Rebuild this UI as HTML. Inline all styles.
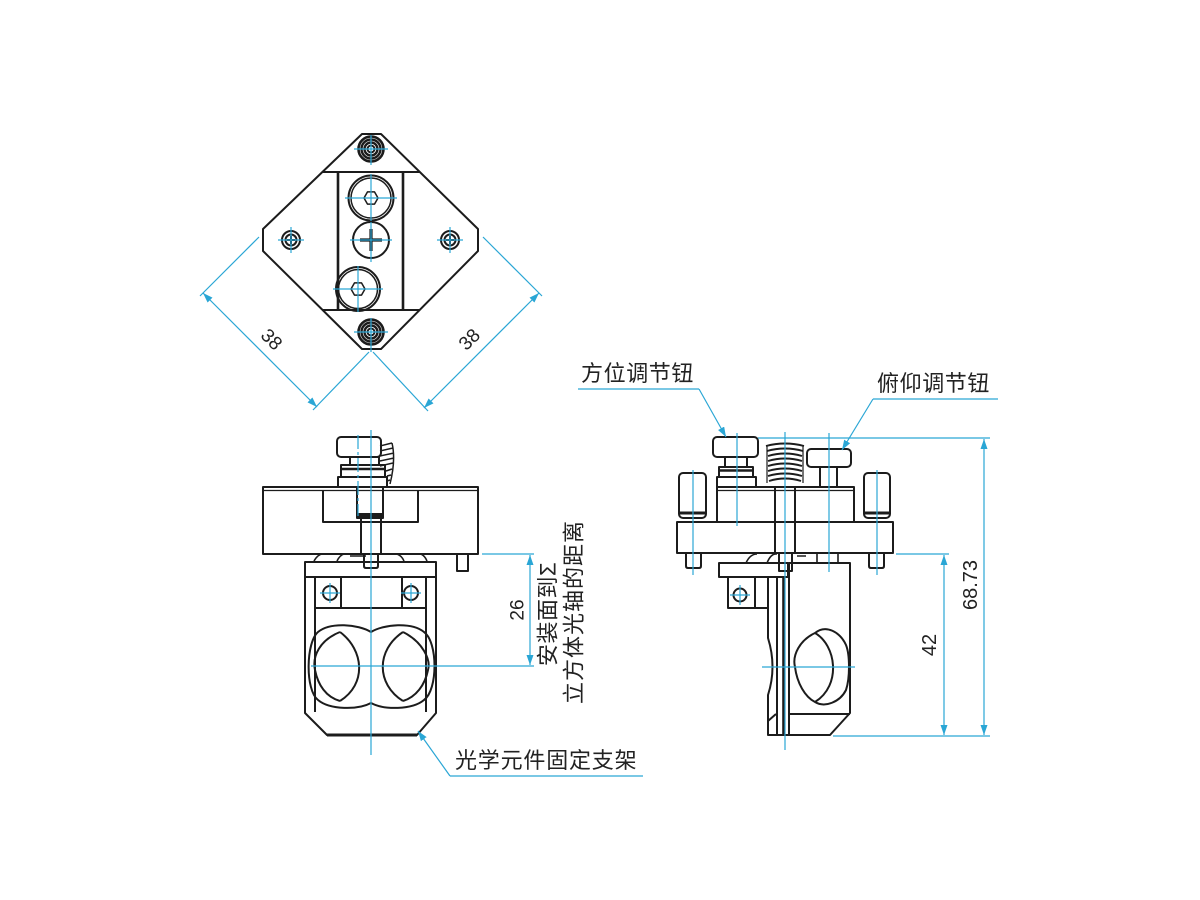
<!DOCTYPE html>
<html><head><meta charset="utf-8"><style>
html,body{margin:0;padding:0;background:#fff;}
svg{display:block;}
text{font-family:"Liberation Sans","Noto Sans CJK SC",sans-serif;fill:#222;}
</style></head><body>
<svg width="1200" height="900" viewBox="0 0 1200 900" xmlns="http://www.w3.org/2000/svg">
<defs>
<marker id="ar" viewBox="0 0 10 7" refX="10" refY="3.5" markerWidth="10" markerHeight="7" markerUnits="userSpaceOnUse" orient="auto-start-reverse"><path d="M0,0 L10,3.5 L0,7 Z" fill="#2aa6d5"/></marker>
</defs>

<!-- ================= BLACK DRAWING ================= -->
<g fill="none" stroke="#1c1c1c" stroke-width="2" stroke-linejoin="round">
 <!-- TOP VIEW -->
 <polygon points="362,134 381,134 478,229 478,251 381,349 362,349 263,251 263,229"/>
 <line x1="322" y1="172" x2="420" y2="172"/>
 <line x1="322" y1="310" x2="420" y2="310"/>
 <line x1="338" y1="172" x2="338" y2="310" stroke-width="2.6"/>
 <line x1="403" y1="172" x2="403" y2="310" stroke-width="2.6"/>
 <!-- top & bottom screws -->
 <circle cx="371" cy="149" r="12.5" stroke-width="2.6"/><circle cx="371" cy="149" r="9.5" stroke-width="2.4"/><circle cx="371" cy="149" r="6.5" stroke-width="2.4"/><circle cx="371" cy="149" r="3.5" stroke-width="2"/>
 <circle cx="371" cy="332" r="12.5" stroke-width="2.6"/><circle cx="371" cy="332" r="9.5" stroke-width="2.4"/><circle cx="371" cy="332" r="6.5" stroke-width="2.4"/><circle cx="371" cy="332" r="3.5" stroke-width="2"/>
 <!-- hex sockets -->
 <circle cx="371" cy="198" r="22.5"/><circle cx="371" cy="198" r="20" stroke-width="1.5"/>
 <polygon points="378,198 374.5,204.1 367.5,204.1 364,198 367.5,191.9 374.5,191.9" stroke-width="1.5"/>
 <circle cx="358" cy="289" r="22"/><circle cx="358" cy="289" r="19.5" stroke-width="1.5"/>
 <polygon points="365,289 361.5,295.1 354.5,295.1 351,289 354.5,282.9 361.5,282.9" stroke-width="1.5"/>
 <!-- phillips -->
 <circle cx="371" cy="240" r="18"/>
 <path d="M360,240 H382 M371,229 V251" stroke-width="3.2"/>
 <!-- side screws -->
 <circle cx="291" cy="240" r="9"/><circle cx="291" cy="240" r="5.5"/>
 <path d="M287,240 H295 M291,236 V244" stroke-width="2"/>
 <circle cx="450" cy="240" r="9"/><circle cx="450" cy="240" r="5.5"/>
 <path d="M446,240 H454 M450,236 V244" stroke-width="2"/>

 <!-- FRONT VIEW -->
 <rect x="337" y="437" width="44" height="20" rx="4"/>
 <rect x="350" y="457" width="29" height="8"/>
 <rect x="341" y="465" width="44" height="12"/>
 <line x1="341" y1="469" x2="385" y2="469" stroke-width="2.5"/>
 <rect x="338" y="477" width="49" height="10"/>
 <!-- spring bits -->
 <path d="M380,446 L392,443 M380,451 L393,448 M380,456 L394,453 M380,461 L394,458 M380,466 L393,463 M386,471 L392,469 M387,476 L391,475 M387,481 L390,480 M392,443 Q396,460 390,484" stroke-width="1.5"/>
 <rect x="263" y="487" width="215" height="67"/>
 <line x1="263" y1="490.5" x2="478" y2="490.5" stroke-width="1.2"/>
 <polyline points="323,490 323,522 418,522 418,490"/>
 <line x1="357" y1="487" x2="357" y2="516"/>
 <line x1="383" y1="487" x2="383" y2="516"/>
 <rect x="357" y="514" width="26" height="4" fill="#1c1c1c"/>
 <line x1="361" y1="518" x2="361" y2="554"/>
 <line x1="381" y1="518" x2="381" y2="554"/>
 <path d="M364,554 V566 Q364,568 366,568 H376 Q378,568 378,566 V554"/>
 <path d="M457,554 V571 H468 V554"/>
 <!-- bumps under plate -->
 <path d="M314,561 Q318,554 323,554 M337,561 Q340,555 344,554 M350,556 H366 M397,554 Q402,556 404,561 M421,554 Q425,556 427,561" stroke-width="1.6"/>
 <!-- lower block -->
 <path d="M305,562 H436 V713 L417,735 H327 L305,713 Z"/>
 <line x1="327" y1="735" x2="417" y2="735" stroke-width="3"/>
 <line x1="305" y1="577" x2="436" y2="577"/>
 <line x1="315" y1="577" x2="315" y2="712"/>
 <line x1="426" y1="577" x2="426" y2="712"/>
 <line x1="315" y1="608" x2="426" y2="608"/>
 <line x1="341" y1="577" x2="341" y2="608"/>
 <line x1="402" y1="577" x2="402" y2="608"/>
 <circle cx="330" cy="593" r="7"/>
 <circle cx="411" cy="593" r="7"/>
 <!-- lens blob -->
 <path d="M371,632 C358,624 330,622 318,632 C306,642 305,690 318,700 C330,710 358,710 371,703 C384,710 412,710 424,700 C438,690 438,642 424,632 C412,622 384,624 371,632 Z"/>
 <path d="M340,632 C320,640 312,656 315,670 C318,685 326,697 340,701"/>
 <path d="M340,632 C364,650 367,684 340,701"/>
 <path d="M403,632 C423,642 431,660 428,670 C425,685 416,697 403,701"/>
 <path d="M403,632 C376,650 376,684 403,701"/>

 <!-- SIDE VIEW -->
 <rect x="713" y="437" width="45" height="20" rx="4"/>
 <rect x="725" y="457" width="22" height="10"/>
 <rect x="719" y="467" width="34" height="10"/>
 <line x1="719" y1="470.5" x2="753" y2="470.5" stroke-width="2.5"/>
 <rect x="717" y="477" width="39" height="10"/>
 <!-- spring -->
 <path d="M766,446 Q785,441 804,446 M767,451 Q785,446 803,451 M768,456 Q785,451 802,456 M768,461 Q785,456 802,461 M768,466 Q785,461 802,466 M768,471 Q785,466 802,471 M768,476 Q785,471 802,476 M769,481 Q785,476 801,481" stroke-width="1.9"/>
 <path d="M767,446 V483 M803,446 V483" stroke-width="1.2"/>
 <rect x="807" y="449" width="44" height="18" rx="4"/>
 <rect x="820" y="467" width="17" height="20"/>
 <!-- posts -->
 <rect x="679" y="473" width="27" height="45" rx="4"/>
 <line x1="679" y1="513" x2="706" y2="513" stroke-width="3"/>
 <rect x="864" y="473" width="26" height="45" rx="4"/>
 <line x1="864" y1="513" x2="890" y2="513" stroke-width="3"/>
 <!-- plates -->
 <path d="M717,522 V487 H854 V522"/>
 <line x1="717" y1="490.5" x2="854" y2="490.5" stroke-width="1.2"/>
 <rect x="677" y="522" width="216" height="31"/>
 <line x1="775" y1="487" x2="775" y2="553"/>
 <line x1="795" y1="487" x2="795" y2="553"/>
 <path d="M779,553 V571 H792 V553"/>
 <path d="M686,553 V566 Q686,568 688,568 H699 Q701,568 701,566 V553"/>
 <path d="M869,553 V566 Q869,568 871,568 H882 Q884,568 884,566 V553"/>
 <path d="M746,563 Q750,554 757,554 M767,563 Q771,553 777,554 M797,556 H806 M817,553 V563 M838,553 V563" stroke-width="1.6"/>
 <!-- lower parts -->
 <rect x="719" y="563" width="69" height="14"/>
 <path d="M789,563 H850 V713 L830,735 H789 Z"/>
 <line x1="789" y1="714" x2="850" y2="714"/>
 <rect x="728" y="577" width="40" height="31"/>
 <line x1="755" y1="577" x2="755" y2="608"/>
 <circle cx="740" cy="595" r="6.5"/>
 <path d="M768,608 V638 Q777,667 768,695 V735 H789"/>
 <line x1="777" y1="577" x2="777" y2="735"/>
 <line x1="783.5" y1="577" x2="783.5" y2="735" stroke-width="2.6"/>
 <path d="M768,721 L776,714"/>
 <!-- side lens -->
 <path d="M815,633 C800,640 792,655 795,667 C797,683 805,697 815,702 C825,708 840,702 846,690 C850,678 850,655 846,645 C840,632 826,624 815,633 Z"/>
 <path d="M815,633 C836,645 842,685 815,702"/>
</g>

<!-- ================= CYAN ================= -->
<g fill="none" stroke="#2aa6d5" stroke-width="1.2">
 <!-- top view crosshairs -->
 <line x1="354" y1="149" x2="388" y2="149"/><line x1="371" y1="135" x2="371" y2="165"/>
 <line x1="345" y1="198" x2="397" y2="198"/><line x1="371" y1="174" x2="371" y2="221"/>
 <line x1="350" y1="240" x2="392" y2="240"/><line x1="371" y1="222" x2="371" y2="262"/>
 <line x1="333" y1="289" x2="383" y2="289"/><line x1="358" y1="266" x2="358" y2="312"/>
 <line x1="354" y1="332" x2="388" y2="332"/><line x1="371" y1="318" x2="371" y2="352"/>
 <line x1="278" y1="240" x2="304" y2="240"/><line x1="291" y1="227" x2="291" y2="253"/>
 <line x1="437" y1="240" x2="463" y2="240"/><line x1="450" y1="227" x2="450" y2="253"/>
 <!-- top view dims -->
 <line x1="259" y1="237" x2="200" y2="296"/>
 <line x1="369" y1="352" x2="313" y2="410"/>
 <line x1="373" y1="352" x2="428" y2="411"/>
 <line x1="483" y1="237" x2="542" y2="296"/>
 <line x1="203" y1="293" x2="317" y2="407" marker-start="url(#ar)" marker-end="url(#ar)"/>
 <line x1="424" y1="408" x2="539" y2="293" marker-start="url(#ar)" marker-end="url(#ar)"/>

 <!-- front view -->
 <line x1="371" y1="430" x2="371" y2="755"/>
 <line x1="358" y1="435" x2="358" y2="516" stroke-dasharray="14,3,3,3"/>
 <line x1="311" y1="666" x2="534" y2="666"/>
 <line x1="482" y1="554" x2="534" y2="554"/>
 <line x1="530" y1="555" x2="530" y2="665" marker-start="url(#ar)" marker-end="url(#ar)"/>
 <line x1="320" y1="593" x2="340" y2="593"/><line x1="330" y1="583" x2="330" y2="603"/>
 <line x1="401" y1="593" x2="421" y2="593"/><line x1="411" y1="583" x2="411" y2="603"/>
 <!-- leader 光学 -->
 <polyline points="450,776 643,776"/>
 <line x1="450" y1="776" x2="418" y2="731" marker-end="url(#ar)"/>

 <!-- side view -->
 <line x1="737" y1="433" x2="737" y2="526"/>
 <line x1="785" y1="432" x2="785" y2="750"/>
 <line x1="829" y1="433" x2="829" y2="572"/>
 <line x1="693" y1="470" x2="693" y2="575"/>
 <line x1="877" y1="470" x2="877" y2="575"/>
 <line x1="762" y1="667" x2="855" y2="667"/>
 <line x1="730" y1="595" x2="750" y2="595"/><line x1="740" y1="585" x2="740" y2="605"/>
 <!-- dims -->
 <line x1="758" y1="438" x2="990" y2="438"/>
 <line x1="833" y1="736" x2="990" y2="736"/>
 <line x1="896" y1="554" x2="949" y2="554"/>
 <line x1="984" y1="439" x2="984" y2="735" marker-start="url(#ar)" marker-end="url(#ar)"/>
 <line x1="944" y1="555" x2="944" y2="735" marker-start="url(#ar)" marker-end="url(#ar)"/>
 <!-- leaders -->
 <polyline points="578,389 699,389"/>
 <line x1="699" y1="389" x2="726" y2="437" marker-end="url(#ar)"/>
 <polyline points="873,399 998,399"/>
 <line x1="873" y1="399" x2="842" y2="450" marker-end="url(#ar)"/>
</g>

<!-- ================= TEXT ================= -->
<text x="271" y="340" font-size="19" text-anchor="middle" dominant-baseline="central" transform="rotate(45 271 340)">38</text>
<text x="470" y="340" font-size="19" text-anchor="middle" dominant-baseline="central" transform="rotate(-45 470 340)">38</text>
<text x="518" y="610" font-size="19" text-anchor="middle" dominant-baseline="central" transform="rotate(-90 518 610)">26</text>
<text x="548" y="614" font-size="22" text-anchor="middle" dominant-baseline="central" letter-spacing="0.5" transform="rotate(-90 548 614)">安装面到Σ</text>
<text x="574" y="612" font-size="22" text-anchor="middle" dominant-baseline="central" letter-spacing="1" transform="rotate(-90 574 612)">立方体光轴的距离</text>
<text x="455" y="768" font-size="22" letter-spacing="0.8">光学元件固定支架</text>
<text x="581" y="381" font-size="22" letter-spacing="0.6">方位调节钮</text>
<text x="877" y="391" font-size="22" letter-spacing="0.6">俯仰调节钮</text>
<text x="930" y="645" font-size="20" text-anchor="middle" dominant-baseline="central" transform="rotate(-90 930 645)">42</text>
<text x="971" y="585" font-size="20" text-anchor="middle" dominant-baseline="central" transform="rotate(-90 971 585)">68.73</text>
</svg>
</body></html>
